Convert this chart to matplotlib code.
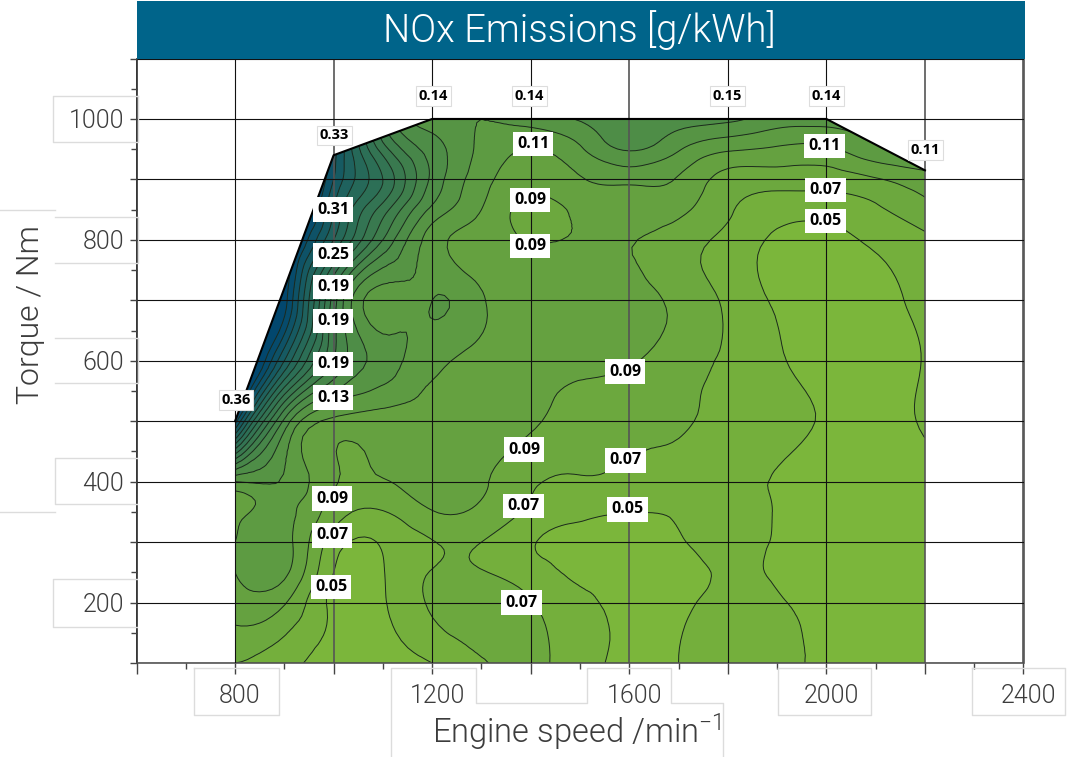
import numpy as np
import matplotlib
matplotlib.use("Agg")
import matplotlib.pyplot as plt
from matplotlib.colors import LinearSegmentedColormap
from matplotlib.patches import Polygon, Rectangle
from matplotlib.lines import Line2D
from matplotlib.transforms import ScaledTranslation
from matplotlib.tri import Triangulation, UniformTriRefiner

W, H = 1076, 757

plt.rcParams['font.family'] = ['Roboto', 'DejaVu Sans']
plt.rcParams['mathtext.default'] = 'regular'

# engine speed, torque and NOx values
speed = [800, 900, 1000, 1100, 1200, 1300, 1400, 1500, 1600, 1700, 1800, 1900, 2000, 2100, 2200]
torque = [100, 200, 250, 300, 350, 400, 500, 600, 700, 800, 850, 900, 950, 1000]
nox = [
    [.070, .057, .040, .040, .050, .068, .075, .058, .045, .050, .060, .055, .047, .043, .040],
    [.100, .092, .045, .048, .073, .080, .071, .055, .044, .045, .056, .052, .045, .040, .040],
    [.110, .115, .050, .049, .071, .071, .060, .046, .044, .044, .052, .048, .044, .040, .040],
    [.110, .118, .060, .052, .069, .070, .052, .045, .043, .048, .057, .048, .042, .040, .040],
    [.104, .116, .080, .069, .089, .085, .066, .054, .0505, .052, .056, .049, .042, .040, .040],
    [.130, .128, .092, .089, .098, .093, .073, .068, .065, .058, .053, .049, .042, .042, .042],
    [.360, .165, .105, .100, .100, .100, .093, .080, .075, .073, .062, .055, .048, .045, .052],
    [.470, .310, .190, .140, .117, .105, .098, .095, .092, .079, .067, .052, .045, .043, .051],
    [.470, .380, .200, .120, .130, .112, .100, .098, .097, .085, .066, .048, .044, .045, .055],
    [.470, .400, .290, .190, .120, .102, .089, .091, .091, .080, .064, .047, .044, .054, .066],
    [.470, .430, .310, .220, .145, .110, .084, .095, .100, .095, .073, .058, .057, .067, .083],
    [.470, .450, .330, .250, .165, .118, .097, .108, .115, .108, .082, .079, .079, .088, .102],
    [.470, .450, .340, .220, .160, .125, .110, .127, .152, .132, .113, .107, .106, .125, .130],
    [.470, .450, .360, .190, .140, .130, .140, .152, .165, .160, .155, .140, .140, .140, .140],
]
levels = [.03, .05, .07, .09, .11, .13, .15, .17, .19, .21, .23, .25, .27, .29, .31, .33, .35, .37]

env_speed = [800, 800, 1000, 1200, 2000, 2200, 2200]
env_torque = [100, 500, 940, 1000, 1000, 915, 100]

inner_labels = [
    (1405, 959, "0.11"), (1399, 866, "0.09"), (1399, 790, "0.09"), (999, 850, "0.31"),
    (999, 775, "0.25"), (999, 722, "0.19"), (999, 666, "0.19"), (999, 595, "0.19"),
    (999, 539, "0.13"), (1592, 582, "0.09"), (1387, 453, "0.09"), (1592, 435, "0.07"),
    (1385, 360, "0.07"), (1596, 354, "0.05"), (997, 372, "0.09"), (997, 311, "0.07"),
    (995, 226, "0.05"), (1381, 200, "0.07"), (1996, 955, "0.11"), (1998, 883, "0.07"),
    (1998, 831, "0.05"),
]
outer_labels = [
    (1202, 1038, "0.14"), (1397, 1038, "0.14"), (1799, 1038, "0.15"), (2000, 1038, "0.14"),
    (2201, 949, "0.11"), (1001, 973, "0.33"), (802, 535, "0.36"),
]

x_labels = {800: "800", 1200: "1200", 1600: "1600", 2000: "2000", 2400: "2400"}
y_labels = {200: "200", 400: "400", 600: "600", 800: "800", 1000: "1000"}

cmap = LinearSegmentedColormap.from_list("nox", ["#7fb93a", "#5f9c41", "#3f7f4c", "#25685a", "#02476e"])

fig = plt.figure(figsize=(W / 100, H / 100), dpi=100, facecolor="white")
ax = fig.add_axes([136.5 / W, 1 - 663 / H, 887 / W, 604.5 / H])

# smooth contours through the read values
X, Y = np.meshgrid(speed, torque)
tri = Triangulation(X.ravel(), Y.ravel())
tri_fine, z_fine = UniformTriRefiner(tri).refine_field(np.array(nox).ravel(), subdiv=3)

cs = ax.tricontourf(tri_fine, z_fine, levels=levels, cmap=cmap, extend="both", zorder=1)
cl = ax.tricontour(tri_fine, z_fine, levels=levels[1:], colors="#1c2a1c", linewidths=0.7, zorder=2)
env = Polygon(list(zip(env_speed, env_torque)), closed=True, transform=ax.transData, fc="none", ec="none")
ax.add_patch(env)
cs.set_clip_path(env)
cl.set_clip_path(env)
ax.plot(env_speed[1:6], env_torque[1:6], color="black", lw=1.5, zorder=4)

ax.set_xlim(600, 2400)
ax.set_ylim(100, 1100)
ax.set_xticks(np.arange(600, 2401, 200))
ax.set_xticks(np.arange(700, 2400, 200), minor=True)
ax.set_yticks(np.arange(100, 1101, 100))
ax.set_yticks(np.arange(150, 1100, 100), minor=True)
ax.set_xticklabels([x_labels.get(int(v), "") for v in ax.get_xticks()])
ax.set_yticklabels([y_labels.get(int(v), "") for v in ax.get_yticks()])
ax.grid(True, which="major", color="#111111", lw=0.8, zorder=3)
ax.set_axisbelow(False)
for v, line in zip(ax.get_xticks(), ax.get_xgridlines()):
    if int(v) in (600, 1000, 1600, 2200, 2400):
        line.set_color("#555555")
        line.set_linewidth(1.2)
ax.tick_params(axis="x", which="major", length=8, width=1, color="#444444", labelsize=18,
               labelcolor="#3c3c3c", pad=7)
ax.tick_params(axis="y", which="major", length=5, width=1, color="#444444", labelsize=18,
               labelcolor="#3c3c3c", pad=4)
ax.tick_params(axis="both", which="minor", length=4, width=1, color="#444444")
for s in ax.spines.values():
    s.set_color("#555555")
    s.set_linewidth(1.2)
ax.spines["top"].set_visible(False)
ax.spines["left"].set_color("#111111")

for lab in ax.get_xticklabels():
    lab.set_transform(lab.get_transform() + ScaledTranslation(5 / 100, 0, fig.dpi_scale_trans))
    lab.set_fontweight(300)
for lab in ax.get_yticklabels():
    lab.set_fontweight(300)

for x, y, t in inner_labels:
    ax.text(x, y, t, ha="center", va="center", fontsize=11.5, fontweight="bold", color="black", zorder=6,
            family=["Open Sans", "DejaVu Sans"],
            bbox=dict(fc="white", ec="none", pad=3))
for x, y, t in outer_labels:
    ax.text(x, y, t, ha="center", va="center", fontsize=10.5, fontweight="bold", color="black", zorder=6,
            family=["Open Sans", "DejaVu Sans"],
            bbox=dict(fc="white", ec="#dddddd", lw=0.8, pad=2))

# title band
fig.add_artist(Rectangle((136.5 / W, 1 - 59 / H), 888 / W, 58 / H, transform=fig.transFigure,
                         fc="#00648a", ec="none"))
fig.text(579 / W, 1 - 30 / H, "NOx Emissions [g/kWh]", color="white", fontsize=27.5, fontweight=300,
         ha="center", va="center")
fig.text(577 / W, 1 - 732 / H, "Engine speed /min$^{-1}$", color="#3c3c3c", fontsize=23.5, fontweight=300,
         ha="center", va="center")
fig.text(31 / W, 1 - 314 / H, "Torque / Nm", color="#3c3c3c", fontsize=23, fontweight=300,
         ha="center", va="center", rotation=90)


def ghost(pts):
    # faint leftover frames around the axis texts, given in pixels
    xs = [p[0] / W for p in pts]
    ys = [1 - p[1] / H for p in pts]
    fig.add_artist(Line2D(xs, ys, transform=fig.transFigure, color="#dcdcdc", lw=1.0))


ghost([(194, 668), (279, 668), (279, 715), (194, 715), (194, 668)])
ghost([(391, 757), (391, 668), (476, 668), (476, 703), (587, 703), (587, 668), (671, 668), (671, 703), (723, 703), (723, 757)])
ghost([(778, 668), (871, 668), (871, 715), (778, 715), (778, 668)])
ghost([(972, 668), (1065, 668), (1065, 715), (972, 715), (972, 668)])
ghost([(138, 96), (53, 96), (53, 142), (138, 142), (138, 96)])
ghost([(0, 210), (55, 210)])
ghost([(55, 263), (138, 263), (138, 217), (55, 217)])
ghost([(55, 338), (138, 338), (138, 383), (55, 383)])
ghost([(137, 458), (55, 458), (55, 504), (137, 504)])
ghost([(0, 512), (55, 512)])
ghost([(137, 579), (53, 579), (53, 627), (137, 627)])

fig.savefig("out.png", dpi=100)
